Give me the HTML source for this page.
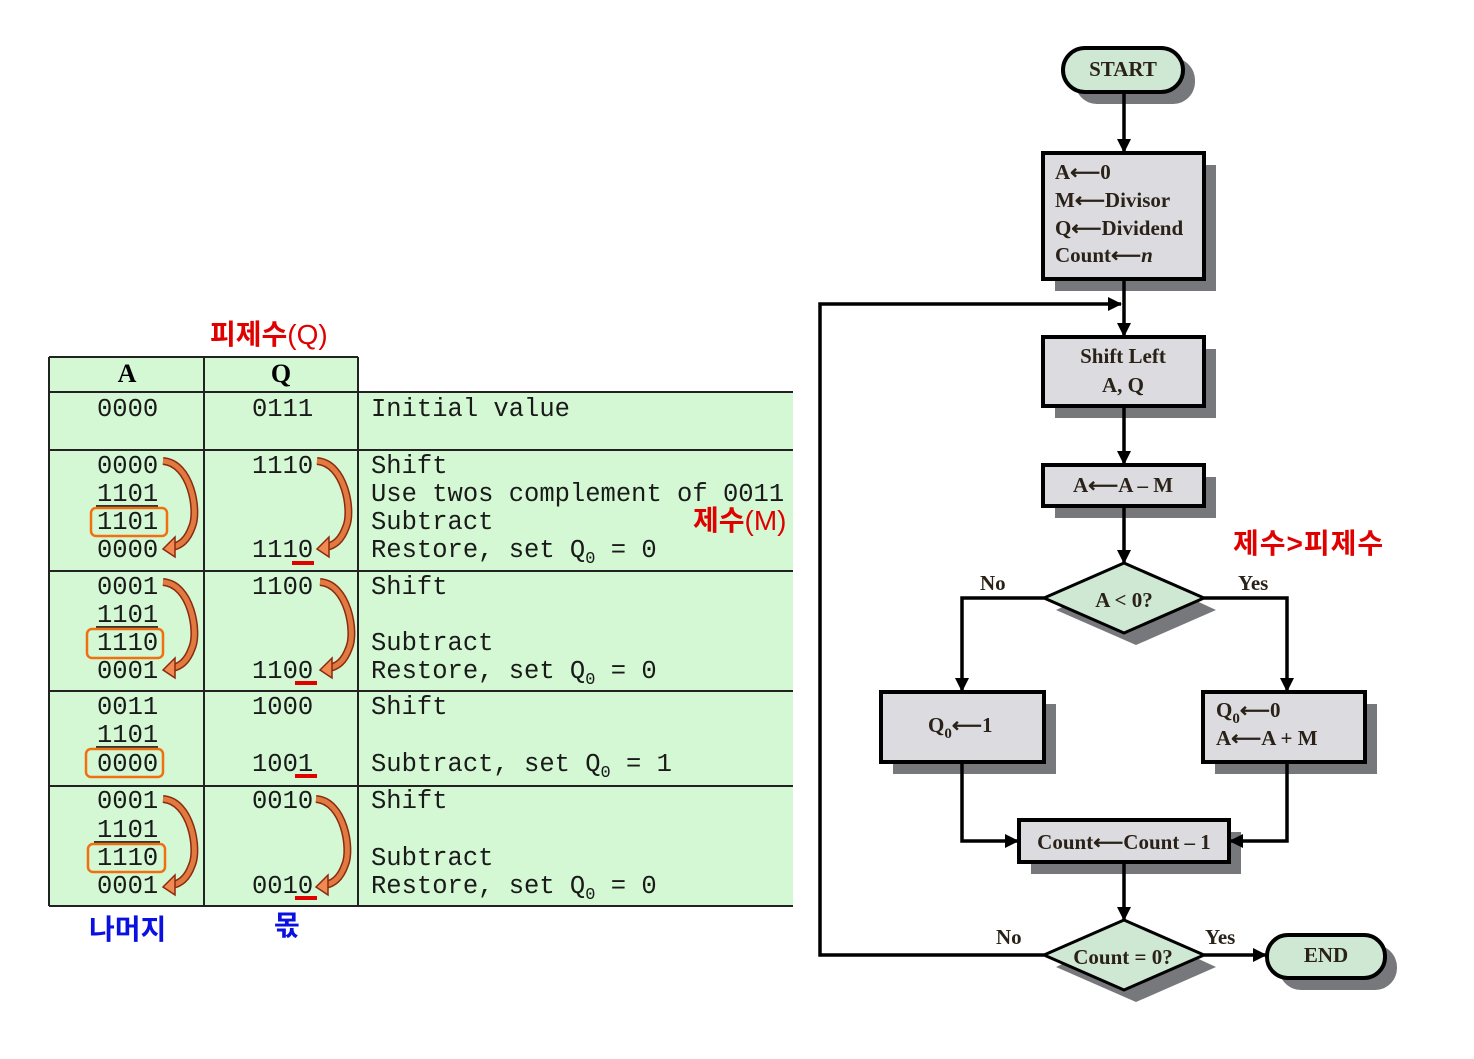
<!DOCTYPE html>
<html><head><meta charset="utf-8"><style>
html,body{margin:0;padding:0;background:#fff;}
svg{display:block}
.m{font-family:"Liberation Mono",monospace;font-size:25.5px;fill:#1a1a1a}
.s{font-family:"Liberation Serif",serif;font-weight:bold;font-size:21px;fill:#2a2218}
.k{font-family:"Liberation Sans","Noto Sans CJK KR",sans-serif;font-weight:bold;font-size:28px}
</style></head><body>
<svg width="1474" height="1059" viewBox="0 0 1474 1059" xmlns="http://www.w3.org/2000/svg">
<defs>
<g id="cv">
<path d="M0,0 C28,2 36,50 29,66 C24,80 17,84 10,86" fill="none" stroke="#8b2a10" stroke-width="8"/>
<path d="M0,0 C28,2 36,50 29,66 C24,80 17,84 10,86" fill="none" stroke="#e07a40" stroke-width="5"/>
<polygon points="0,88 12,76 12,96" fill="#f08a50" stroke="#8b2a10" stroke-width="1.5"/>
</g>
<marker id="ah" markerWidth="14" markerHeight="14" refX="13" refY="7" orient="auto" markerUnits="userSpaceOnUse" viewBox="0 0 14 14"><polygon points="0,0 14,7 0,14" fill="#000"/></marker>
</defs>
<rect x="49" y="357" width="309" height="35" fill="#d4f7d4"/>
<rect x="49" y="392" width="744" height="514" fill="#d4f7d4"/>
<g stroke="#222" stroke-width="2" fill="none">
<line x1="49" y1="357" x2="358" y2="357"/>
<line x1="49" y1="392" x2="793" y2="392"/>
<line x1="49" y1="450" x2="793" y2="450"/>
<line x1="49" y1="571" x2="793" y2="571"/>
<line x1="49" y1="691" x2="793" y2="691"/>
<line x1="49" y1="786" x2="793" y2="786"/>
<line x1="49" y1="906" x2="793" y2="906"/>
<line x1="49" y1="357" x2="49" y2="906"/>
<line x1="204" y1="357" x2="204" y2="906"/>
<line x1="358" y1="357" x2="358" y2="906"/>
</g>
<text x="127" y="382" text-anchor="middle" style="font-family:'Liberation Serif',serif;font-weight:bold;font-size:26px">A</text>
<text x="281" y="382" text-anchor="middle" style="font-family:'Liberation Serif',serif;font-weight:bold;font-size:26px">Q</text>
<g class="m">
<text x="97" y="416">0000</text><text x="252" y="416">0111</text><text x="371" y="416">Initial value</text>
<text x="97" y="473">0000</text><text x="97" y="501">1101</text><text x="97" y="529">1101</text><text x="97" y="557">0000</text>
<text x="252" y="473">1110</text><text x="252" y="557">1110</text>
<text x="371" y="473">Shift</text><text x="371" y="501">Use twos complement of 0011</text><text x="371" y="529">Subtract</text><text x="371" y="557">Restore, set Q<tspan font-size="17" dy="6">0</tspan><tspan dy="-6"> = 0</tspan></text>
<text x="97" y="594">0001</text><text x="97" y="622">1101</text><text x="97" y="650">1110</text><text x="97" y="678">0001</text>
<text x="252" y="594">1100</text><text x="252" y="678">1100</text>
<text x="371" y="594">Shift</text><text x="371" y="650">Subtract</text><text x="371" y="678">Restore, set Q<tspan font-size="17" dy="6">0</tspan><tspan dy="-6"> = 0</tspan></text>
<text x="97" y="714">0011</text><text x="97" y="742">1101</text><text x="97" y="771">0000</text>
<text x="252" y="714">1000</text><text x="252" y="771">1001</text>
<text x="371" y="714">Shift</text><text x="371" y="771">Subtract, set Q<tspan font-size="17" dy="6">0</tspan><tspan dy="-6"> = 1</tspan></text>
<text x="97" y="808">0001</text><text x="97" y="837">1101</text><text x="97" y="865">1110</text><text x="97" y="893">0001</text>
<text x="252" y="808">0010</text><text x="252" y="893">0010</text>
<text x="371" y="808">Shift</text><text x="371" y="865">Subtract</text><text x="371" y="893">Restore, set Q<tspan font-size="17" dy="6">0</tspan><tspan dy="-6"> = 0</tspan></text>
</g>
<g stroke="#333" stroke-width="2">
<line x1="96" y1="506" x2="158" y2="506"/><line x1="96" y1="627" x2="158" y2="627"/>
<line x1="96" y1="747" x2="158" y2="747"/><line x1="94" y1="842" x2="160" y2="842"/>
</g>
<g fill="none" stroke="#f07010" stroke-width="2.5">
<rect x="91" y="508" width="76" height="28" rx="5"/>
<rect x="87" y="629" width="76" height="29" rx="5"/>
<rect x="86" y="749" width="77" height="28" rx="5"/>
<rect x="88" y="844" width="77" height="28" rx="5"/>
</g>
<g fill="#e00000">
<rect x="292" y="561" width="22" height="4"/><rect x="295" y="681" width="22" height="4"/>
<rect x="295" y="774" width="22" height="4"/><rect x="295" y="896" width="22" height="4"/>
</g>
<use href="#cv" x="163" y="461"/><use href="#cv" x="317" y="461"/>
<use href="#cv" x="163" y="582"/><use href="#cv" x="320" y="582"/>
<use href="#cv" x="163" y="799"/><use href="#cv" x="316" y="799"/>
<text class="k" x="210" y="344" fill="#e00000">피제수<tspan font-weight="normal">(Q)</tspan></text>
<text class="k" x="693" y="530" fill="#e00000">제수<tspan font-weight="normal">(M)</tspan></text>
<text class="k" x="1233" y="553" fill="#e00000" letter-spacing="1">제수&gt;피제수</text>
<text class="k" x="89" y="939" fill="#0a10e0">나머지</text>
<text class="k" x="274" y="935" fill="#0a10e0">몫</text>
<g fill="#77787c">
<rect x="1075" y="58" width="120" height="46" rx="22"/>
<rect x="1055" y="165" width="161" height="126"/>
<rect x="1055" y="349" width="161" height="69"/>
<rect x="1055" y="477" width="161" height="41"/>
<polygon points="1136,573 1216,610 1136,645 1056,610"/>
<rect x="893" y="704" width="163" height="70"/>
<rect x="1215" y="704" width="162" height="70"/>
<rect x="1031" y="832" width="210" height="42"/>
<polygon points="1136,930 1216,967 1136,1002 1056,967"/>
<rect x="1279" y="945" width="118" height="45" rx="22"/>
</g>
<g stroke="#000" stroke-width="3.5" fill="none">
<line x1="1124" y1="92" x2="1124" y2="152" marker-end="url(#ah)"/>
<line x1="1124" y1="279" x2="1124" y2="336" marker-end="url(#ah)"/>
<line x1="1124" y1="406" x2="1124" y2="464" marker-end="url(#ah)"/>
<line x1="1124" y1="506" x2="1124" y2="563" marker-end="url(#ah)"/>
<polyline points="1044,598 962,598 962,691" marker-end="url(#ah)"/>
<polyline points="1204,598 1287,598 1287,691" marker-end="url(#ah)"/>
<polyline points="962,762 962,841 1018,841" marker-end="url(#ah)"/>
<polyline points="1287,762 1287,841 1230,841" marker-end="url(#ah)"/>
<line x1="1124" y1="862" x2="1124" y2="920" marker-end="url(#ah)"/>
<polyline points="1044,955 820,955 820,304 1121,304" marker-end="url(#ah)"/>
<line x1="1204" y1="955" x2="1266" y2="955" marker-end="url(#ah)"/>
</g>
<g stroke="#000" stroke-width="4">
<rect x="1063" y="48" width="120" height="44" rx="22" fill="#cfe8d4"/>
<rect x="1043" y="153" width="161" height="126" fill="#dcdce0"/>
<rect x="1043" y="337" width="161" height="69" fill="#dcdce0"/>
<rect x="1043" y="465" width="161" height="41" fill="#dcdce0"/>
<polygon points="1124,563 1204,598 1124,633 1044,598" fill="#cfe8d4" stroke-width="3"/>
<rect x="881" y="692" width="163" height="70" fill="#dcdce0"/>
<rect x="1203" y="692" width="162" height="70" fill="#dcdce0"/>
<rect x="1019" y="820" width="210" height="42" fill="#dcdce0"/>
<polygon points="1124,920 1204,955 1124,990 1044,955" fill="#cfe8d4" stroke-width="3"/>
<rect x="1267" y="935" width="118" height="43" rx="21" fill="#cfe8d4"/>
</g>
<g class="s">
<text x="1123" y="76" text-anchor="middle">START</text>
<text x="1055" y="179">A⟵0</text>
<text x="1055" y="207">M⟵Divisor</text>
<text x="1055" y="235">Q⟵Dividend</text>
<text x="1055" y="262">Count⟵<tspan font-style="italic">n</tspan></text>
<text x="1123" y="363" text-anchor="middle">Shift Left</text>
<text x="1123" y="392" text-anchor="middle">A, Q</text>
<text x="1123" y="492" text-anchor="middle">A⟵A – M</text>
<text x="1124" y="607" text-anchor="middle">A &lt; 0?</text>
<text x="980" y="590">No</text>
<text x="1238" y="590">Yes</text>
<text x="928" y="732">Q<tspan font-size="15" dy="6">0</tspan><tspan dy="-6">⟵1</tspan></text>
<text x="1216" y="717">Q<tspan font-size="15" dy="6">0</tspan><tspan dy="-6">⟵0</tspan></text>
<text x="1216" y="745">A⟵A + M</text>
<text x="1124" y="849" text-anchor="middle">Count⟵Count – 1</text>
<text x="1123" y="964" text-anchor="middle">Count = 0?</text>
<text x="996" y="944">No</text>
<text x="1205" y="944">Yes</text>
<text x="1326" y="962" text-anchor="middle">END</text>
</g>
</svg>
</body></html>
